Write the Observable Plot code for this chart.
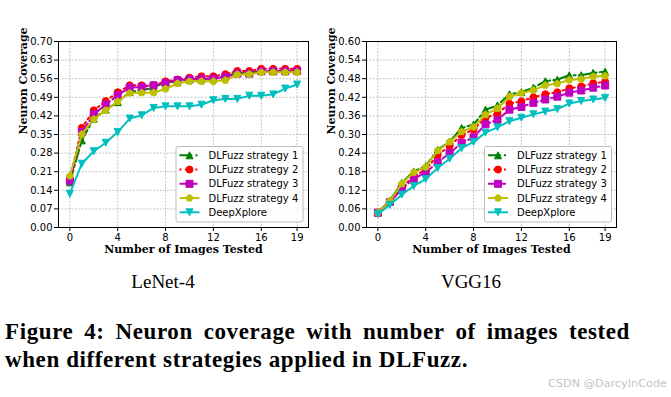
<!DOCTYPE html>
<html>
<head>
<meta charset="utf-8">
<script src="https://cdn.jsdelivr.net/npm/d3@7"></script>
<script src="https://cdn.jsdelivr.net/npm/@observablehq/plot@0.6"></script>
<style>
  html, body { margin: 0; padding: 0; background: #fff; }
  #fig { position: relative; width: 671px; height: 397px; overflow: hidden; background: #fff; }
  .panel { position: absolute; top: 0; }
  .legend { position: absolute; top: 0; left: 0; pointer-events: none; }
  #annot { position: absolute; left: 0; top: 0; }
</style>
</head>
<body>
<div id="fig"></div>
<script>
// ---------------- data ----------------
const imagesTested = [0,1,2,3,4,5,6,7,8,9,10,11,12,13,14,15,16,17,18,19];
const xTicks = [0, 4, 8, 12, 16, 19];
const seriesNames = ["DLFuzz strategy 1", "DLFuzz strategy 2", "DLFuzz strategy 3", "DLFuzz strategy 4", "DeepXplore"];

// LeNet-4 neuron coverage
const lenetS1 = [0.170,0.328,0.410,0.444,0.472,0.510,0.517,0.525,0.548,0.548,0.557,0.557,0.562,0.569,0.582,0.582,0.589,0.589,0.589,0.593];
const lenetS2 = [0.180,0.375,0.441,0.476,0.509,0.535,0.535,0.535,0.550,0.557,0.564,0.569,0.569,0.577,0.589,0.589,0.597,0.597,0.597,0.597];
const lenetS3 = [0.176,0.359,0.426,0.462,0.498,0.527,0.529,0.535,0.544,0.554,0.558,0.560,0.560,0.567,0.579,0.579,0.588,0.588,0.588,0.589];
const lenetS4 = [0.194,0.351,0.408,0.441,0.474,0.506,0.507,0.507,0.522,0.542,0.550,0.550,0.550,0.554,0.576,0.577,0.584,0.584,0.584,0.584];
const lenetDX = [0.127,0.240,0.287,0.319,0.359,0.410,0.422,0.450,0.456,0.456,0.456,0.462,0.479,0.484,0.484,0.496,0.496,0.501,0.523,0.538];
const lenetYTicks = [0.00,0.07,0.14,0.21,0.28,0.35,0.42,0.49,0.56,0.63,0.70];

// VGG16 neuron coverage
const vggS1 = [0.048,0.087,0.144,0.181,0.198,0.251,0.277,0.321,0.332,0.380,0.394,0.430,0.437,0.451,0.472,0.477,0.491,0.491,0.499,0.503];
const vggS2 = [0.048,0.084,0.129,0.165,0.186,0.233,0.263,0.298,0.316,0.354,0.367,0.399,0.407,0.420,0.430,0.436,0.449,0.455,0.465,0.470];
const vggS3 = [0.048,0.082,0.124,0.157,0.178,0.210,0.240,0.273,0.291,0.333,0.347,0.380,0.389,0.402,0.413,0.422,0.435,0.442,0.451,0.458];
const vggS4 = [0.048,0.085,0.141,0.178,0.195,0.248,0.276,0.309,0.324,0.364,0.384,0.422,0.434,0.443,0.459,0.464,0.476,0.479,0.487,0.489];
const vggDX = [0.043,0.073,0.106,0.134,0.156,0.192,0.222,0.256,0.276,0.306,0.323,0.343,0.354,0.365,0.374,0.382,0.400,0.408,0.413,0.418];
const vggYTicks = [0.00,0.06,0.12,0.18,0.24,0.30,0.36,0.42,0.48,0.54,0.60];

const xLabel = "Number of Images Tested";
const yLabel = "Neuron Coverage";
const panelTitles = ["LeNet-4", "VGG16"];
const captionLines = ["Figure 4: Neuron coverage with number of images tested", "when different strategies applied in DLFuzz."];
const watermark = "CSDN @DarcyInCode";

// ---------------- styles ----------------
function rad(size) { return Math.sqrt(size / Math.PI); }
const symTriUp = { draw(c, s) { const h = rad(s); c.moveTo(0, -h); c.lineTo(h, h); c.lineTo(-h, h); c.closePath(); } };
const symTriDown = { draw(c, s) { const h = rad(s); c.moveTo(0, h); c.lineTo(h, -h); c.lineTo(-h, -h); c.closePath(); } };
const symCircle = { draw(c, s) { const h = rad(s); c.moveTo(h, 0); c.arc(0, 0, h, 0, 2 * Math.PI); c.closePath(); } };
const symSquare = { draw(c, s) { const h = rad(s); c.rect(-h, -h, 2 * h, 2 * h); } };
const symPentagon = { draw(c, s) { const h = rad(s) * 1.05; for (let k = 0; k < 5; k++) { const a = -Math.PI / 2 + k * 2 * Math.PI / 5; const px = h * Math.cos(a), py = h * Math.sin(a); if (k === 0) c.moveTo(px, py); else c.lineTo(px, py); } c.closePath(); } };

const styles = [
  { color: "#008000", dash: "12.8,3.2,2,3.2", symbol: symTriUp },
  { color: "#ff0000", dash: "2,3.3", symbol: symCircle },
  { color: "#bf00bf", dash: "7.4,3.2", symbol: symSquare },
  { color: "#bfbf00", dash: null, symbol: symPentagon },
  { color: "#00bfbf", dash: null, symbol: symTriDown }
];
const markerR = 3.5;

function panel(seriesList, yDomain, yTicks, width, ml, mr) {
  const marks = [
    Plot.gridX(xTicks, { stroke: "#b4b4b4", strokeOpacity: 1, strokeWidth: 0.8, strokeDasharray: "2,1.4" }),
    Plot.gridY(yTicks, { stroke: "#b4b4b4", strokeOpacity: 1, strokeWidth: 0.8, strokeDasharray: "2,1.4" })
  ];
  seriesList.forEach((vals, i) => {
    const rows = imagesTested.map((x, j) => ({ x, y: vals[j] }));
    const st = styles[i];
    marks.push(Plot.line(rows, { x: "x", y: "y", stroke: st.color, strokeWidth: 2, strokeDasharray: st.dash || undefined, strokeLinejoin: "round" }));
    marks.push(Plot.dot(rows, { x: "x", y: "y", symbol: st.symbol, r: markerR, fill: st.color, stroke: st.color, strokeWidth: 1 }));
  });
  marks.push(
    Plot.frame({ stroke: "#000", strokeWidth: 1 }),
    Plot.axisX(xTicks, { tickSize: 4, tickPadding: 2, label: null, fontSize: 10 }),
    Plot.axisY(yTicks, { tickSize: 4, tickPadding: 2, label: null, tickFormat: d3.format(".2f"), fontSize: 10 }),
    Plot.text([xLabel], { frameAnchor: "bottom", dy: 22, text: d => d, fontFamily: "DejaVu Serif", fontWeight: "bold", fontSize: 11, fill: "#000", lineAnchor: "middle" }),
    Plot.text([yLabel], { frameAnchor: "left", dx: -35.5, rotate: -90, text: d => d, fontFamily: "DejaVu Serif", fontWeight: "bold", fontSize: 11, fill: "#000", lineAnchor: "middle" })
  );
  return Plot.plot({
    width, height: 260,
    marginLeft: ml, marginRight: mr, marginTop: 41, marginBottom: 33,
    style: { fontFamily: "DejaVu Sans", fontSize: "10px", color: "#000", background: "transparent", overflow: "visible" },
    x: { domain: [-0.95, 19.95] },
    y: { domain: yDomain },
    marks
  });
}

function legend(left) {
  const svg = d3.create("svg").attr("class", "legend").attr("width", 671).attr("height", 260);
  svg.append("rect").attr("x", left + 0.5).attr("y", 146.5).attr("width", 127).attr("height", 75.5)
    .attr("rx", 2).attr("fill", "#fff").attr("fill-opacity", 0.85).attr("stroke", "#bdbdbd").attr("stroke-width", 1);
  seriesNames.forEach((name, i) => {
    const st = styles[i];
    const y = 155.3 + i * 14.25;
    svg.append("line").attr("x1", left + 4).attr("x2", left + 24).attr("y1", y).attr("y2", y)
      .attr("stroke", st.color).attr("stroke-width", 2).attr("stroke-dasharray", st.dash || null);
    svg.append("path").attr("transform", `translate(${left + 14},${y})`)
      .attr("d", d3.symbol(st.symbol, Math.PI * markerR * markerR)())
      .attr("fill", st.color).attr("stroke", st.color).attr("stroke-width", 1);
    svg.append("text").attr("x", left + 33).attr("y", y).attr("dy", "0.36em")
      .attr("font-family", "DejaVu Sans").attr("font-size", 10).attr("fill", "#000").text(name);
  });
  return svg.node();
}

const fig = document.getElementById("fig");
const p1 = panel([lenetS1, lenetS2, lenetS3, lenetS4, lenetDX], [0, 0.7], lenetYTicks, 320, 58, 12);
p1.classList.add("panel"); p1.style.left = "0px";
const p2 = panel([vggS1, vggS2, vggS3, vggS4, vggDX], [0, 0.6], vggYTicks, 351, 46, 55);
p2.classList.add("panel"); p2.style.left = "320px";
fig.appendChild(p1);
fig.appendChild(p2);
fig.appendChild(legend(175.5));
fig.appendChild(legend(484));

// annotations (titles, caption, watermark)
const ann = d3.create("svg").attr("id", "annot").attr("width", 671).attr("height", 397);
fig.appendChild(ann.node());
ann.append("text").attr("x", 163).attr("y", 288).attr("text-anchor", "middle")
  .attr("font-family", "Liberation Serif").attr("font-size", 19).attr("fill", "#000").text(panelTitles[0]);
ann.append("text").attr("x", 471).attr("y", 288).attr("text-anchor", "middle")
  .attr("font-family", "Liberation Serif").attr("font-size", 19).attr("fill", "#000").text(panelTitles[1]);

// caption: justified first line (word spacing), natural second line
const capFont = { family: "Liberation Serif", weight: "bold", size: 23 };
function capText(str, x, y, ls) {
  return ann.append("text").attr("x", x).attr("y", y)
    .attr("font-family", capFont.family).attr("font-weight", capFont.weight).attr("font-size", capFont.size)
    .attr("letter-spacing", ls).attr("fill", "#000").text(str);
}
const probe = capText(captionLines[1], 5, 367, 0);
const nat2 = probe.node().getComputedTextLength();
const ls = Math.max(0, (463 - nat2) / captionLines[1].length);
probe.attr("letter-spacing", ls);
const words = captionLines[0].split(" ");
const wNodes = words.map(w => capText(w, 0, 339, ls));
const wWidths = wNodes.map(n => n.node().getComputedTextLength());
const gap = (625 - d3.sum(wWidths)) / (words.length - 1);
let cx = 5;
wNodes.forEach((n, i) => { n.attr("x", cx); cx += wWidths[i] + gap; });

ann.append("text").attr("x", 548).attr("y", 387).attr("textLength", 119).attr("lengthAdjust", "spacingAndGlyphs")
  .attr("font-family", "DejaVu Sans").attr("font-size", 11).attr("fill", "#c4c4c4").text(watermark);
</script>
</body>
</html>
